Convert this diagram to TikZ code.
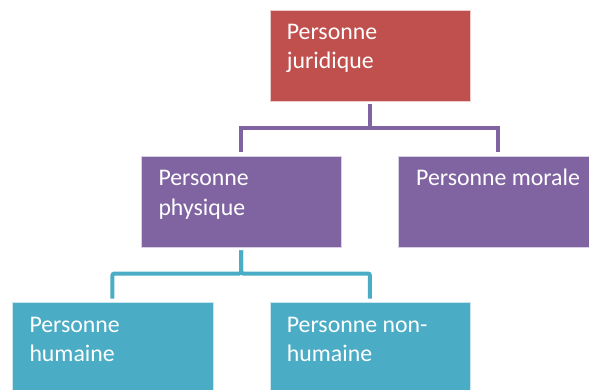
\documentclass[tikz,border=0pt]{standalone}
\usepackage{fontspec}
\setmainfont{Carlito}
\definecolor{cred}{HTML}{C0504D}
\definecolor{cpurple}{HTML}{8064A2}
\definecolor{cteal}{HTML}{4BACC6}
\tikzset{
  box/.style={draw=white!70!#1, line width=0.4pt, fill=#1, rectangle, anchor=north west, inner sep=0pt,
    minimum width=200.5pt, minimum height=91.3pt},
  txt/.style={anchor=base west, inner sep=0pt, align=left, text=white,
    font=\fontsize{23.8}{29.5}\selectfont},
  pline/.style={draw=cpurple, line width=4pt},
  tline/.style={draw=cteal, line width=4pt, rounded corners=2pt},
}
\begin{document}
\begin{tikzpicture}[x=1pt,y=-1pt]
\useasboundingbox (0,0) rectangle (589,389);
\node[box=cred] (jur) at (269.8,9.7) {};
\node[box=cpurple] (phy) at (140.7,155.7) {};
\node[box=cpurple] (mor) at (398,155.7) {};
\node[box=cteal] (hum) at (12,302) {};
\node[box=cteal] (non) at (269.5,302) {};
\node[txt] (tjur) at (286.7,68.5) {Personne\\juridique};
\node[txt] (tphy) at (158.3,215.2) {Personne\\physique};
\node[txt] (tmor) at (416,185.7) {Personne morale};
\node[txt] (thum) at (29.3,361.8) {Personne\\humaine};
\node[txt] (tnon) at (286.7,361.8) {Personne non-\\humaine};
\draw[pline] ([yshift=-3pt]jur.south) |- ([yshift=27.7pt]phy.north) -- ([yshift=3.5pt]phy.north);
\draw[pline] ([yshift=-3pt]jur.south) |- ([yshift=27.7pt]mor.north) -- ([yshift=3.5pt]mor.north);
\draw[tline] ([yshift=-3pt]phy.south) |- ([yshift=28.5pt]hum.north) -- ([yshift=3.5pt]hum.north);
\draw[tline] ([yshift=-3pt]phy.south) |- ([yshift=28.5pt]non.north) -- ([yshift=3.5pt]non.north);
\end{tikzpicture}
\end{document}
